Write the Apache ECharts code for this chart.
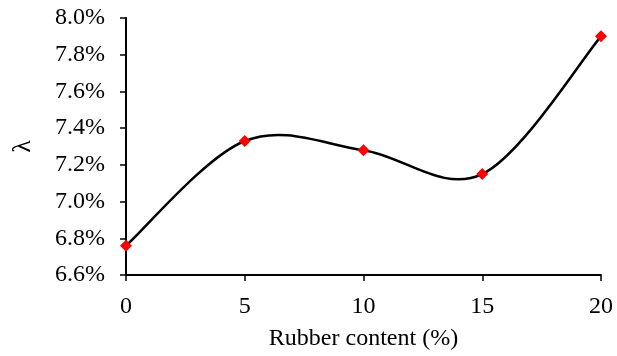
<!DOCTYPE html>
<html><head><meta charset="utf-8">
<script src="https://cdn.jsdelivr.net/npm/echarts@6/dist/echarts.min.js"></script>
<style>html,body{margin:0;padding:0;background:#fff}#c{width:617px;height:356px}</style>
</head><body><div id="c"></div>
<script>
const rubberContent = [0, 5, 10, 15, 20];
const lambdaValues = [6.76, 7.33, 7.28, 7.15, 7.90];
const xTicks = [0, 5, 10, 15, 20];
const yTicks = [6.6, 6.8, 7.0, 7.2, 7.4, 7.6, 7.8, 8.0];

const font = 'Liberation Serif';
const points = rubberContent.map((x, i) => [x, lambdaValues[i]]);
const chart = echarts.init(document.getElementById('c'));

// Excel-style smoothed line (Catmull-Rom as cubic Bezier) through the data, via the chart's scales
function renderSegment(params, api) {
  const i = params.dataIndexInside;
  const n = points.length;
  if (i >= n - 1) return null;
  const P = k => api.coord(points[Math.max(0, Math.min(n - 1, k))]);
  const p0 = P(i - 1), p1 = P(i), p2 = P(i + 1), p3 = P(i + 2);
  const c1 = [p1[0] + (p2[0] - p0[0]) / 6, p1[1] + (p2[1] - p0[1]) / 6];
  const c2 = [p2[0] - (p3[0] - p1[0]) / 6, p2[1] - (p3[1] - p1[1]) / 6];
  return {
    type: 'bezierCurve',
    shape: {x1: p1[0], y1: p1[1], cpx1: c1[0], cpy1: c1[1], cpx2: c2[0], cpy2: c2[1], x2: p2[0], y2: p2[1]},
    style: {stroke: '#000', lineWidth: 2.5, fill: null}
  };
}

chart.setOption({
  animation: false,
  grid: {left: 126, right: 16, top: 18, bottom: 78},
  xAxis: {
    type: 'value', min: xTicks[0], max: xTicks[xTicks.length-1], interval: 5,
    name: 'Rubber content (%)', nameLocation: 'middle', nameGap: 52,
    nameTextStyle: {fontFamily: font, fontSize: 24, color: '#000'},
    axisLine: {lineStyle: {color: '#000', width: 2}},
    axisTick: {show: true, length: 6, lineStyle: {color: '#000', width: 1.5}},
    axisLabel: {fontFamily: font, fontSize: 24, color: '#000', margin: 20},
    splitLine: {show: false}
  },
  yAxis: {
    type: 'value', min: yTicks[0], max: yTicks[yTicks.length-1], interval: 0.2,
    name: 'λ', nameLocation: 'middle', nameGap: 90, nameRotate: 90,
    nameTextStyle: {fontFamily: font, fontSize: 26, color: '#000'},
    axisLine: {show: true, lineStyle: {color: '#000', width: 2}},
    axisTick: {show: true, length: 6, lineStyle: {color: '#000', width: 1.5}},
    axisLabel: {fontFamily: font, fontSize: 24, color: '#000', margin: 21,
      formatter: v => v.toFixed(1) + '%'},
    splitLine: {show: false}
  },
  series: [{
    type: 'custom',
    renderItem: renderSegment,
    data: points,
    clip: false,
    z: 2
  }, {
    type: 'scatter',
    data: points,
    symbol: 'diamond', symbolSize: 12,
    itemStyle: {color: '#ff0000', opacity: 1},
    z: 3
  }]
});
</script></body></html>
